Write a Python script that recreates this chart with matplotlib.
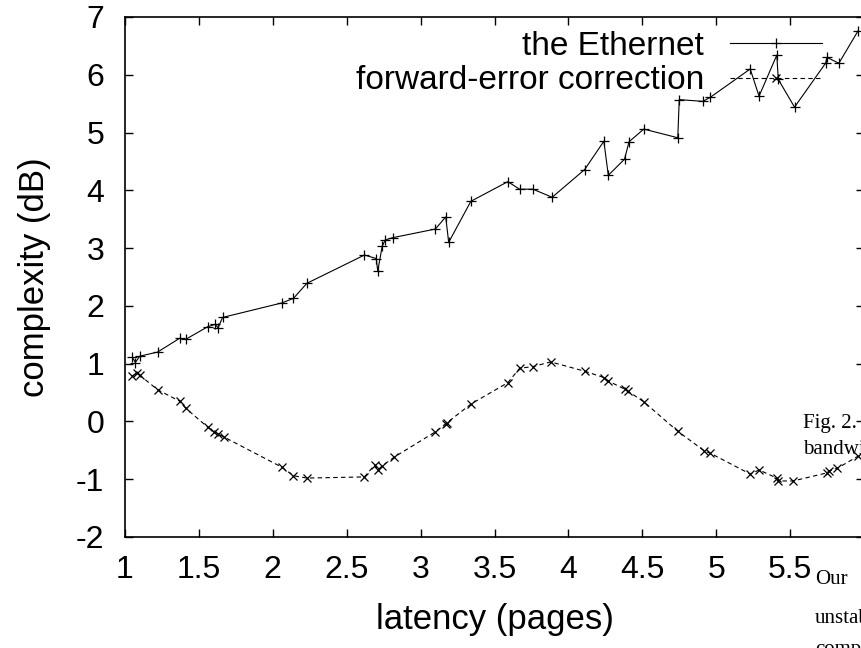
import matplotlib
matplotlib.use("Agg")
import matplotlib.pyplot as plt

# latency (pages) vs complexity (dB)
eth_x = [1.05, 1.07, 1.10, 1.22, 1.37, 1.41, 1.56, 1.61, 1.63, 1.66, 2.06, 2.14, 2.23,
         2.62, 2.70, 2.71, 2.74, 2.76, 2.81, 3.10, 3.17, 3.19, 3.34, 3.59, 3.67, 3.76,
         3.89, 4.11, 4.24, 4.27, 4.38, 4.41, 4.51, 4.74, 4.75, 4.91, 4.96, 5.23, 5.29,
         5.41, 5.42, 5.53, 5.74, 5.75, 5.83, 5.96]
eth_y = [1.11, 1.02, 1.13, 1.20, 1.44, 1.42, 1.64, 1.68, 1.62, 1.80, 2.05, 2.13, 2.39,
         2.88, 2.82, 2.60, 3.03, 3.14, 3.18, 3.33, 3.54, 3.10, 3.81, 4.15, 4.02, 4.02,
         3.88, 4.36, 4.85, 4.26, 4.54, 4.84, 5.06, 4.91, 5.57, 5.54, 5.61, 6.10, 5.63,
         6.34, 5.92, 5.44, 6.20, 6.30, 6.20, 6.76]

fec_x = [1.05, 1.08, 1.10, 1.22, 1.37, 1.41, 1.56, 1.60, 1.63, 1.67, 2.06, 2.14, 2.23,
         2.62, 2.69, 2.71, 2.74, 2.82, 3.10, 3.17, 3.18, 3.34, 3.59, 3.67, 3.76, 3.88,
         4.11, 4.24, 4.27, 4.38, 4.40, 4.51, 4.74, 4.92, 4.96, 5.23, 5.29, 5.41, 5.42,
         5.52, 5.75, 5.76, 5.82, 5.96]
fec_y = [0.79, 0.83, 0.80, 0.55, 0.35, 0.23, -0.10, -0.18, -0.22, -0.27, -0.79, -0.94, -0.98,
         -0.96, -0.75, -0.84, -0.77, -0.62, -0.18, -0.04, -0.02, 0.30, 0.67, 0.92, 0.95, 1.03,
         0.87, 0.76, 0.70, 0.56, 0.53, 0.34, -0.17, -0.51, -0.55, -0.91, -0.84, -0.98, -1.03,
         -1.03, -0.89, -0.86, -0.81, -0.60]

x_ticks = [1, 1.5, 2, 2.5, 3, 3.5, 4, 4.5, 5, 5.5]
x_labels = ['1', '1.5', '2', '2.5', '3', '3.5', '4', '4.5', '5', '5.5']
y_ticks = [-2, -1, 0, 1, 2, 3, 4, 5, 6, 7]

plt.rcParams['font.family'] = ['Liberation Sans', 'DejaVu Sans']
plt.rcParams['axes.unicode_minus'] = False

fig = plt.figure(figsize=(8.61, 6.48), dpi=100)
ax = fig.add_axes([125 / 861, 1 - 537 / 648, 739 / 861, 520 / 648])

ax.plot(eth_x, eth_y, color='black', linestyle='-', linewidth=0.8,
        marker='+', markersize=7, markeredgewidth=0.9, label='the Ethernet')
ax.plot(fec_x, fec_y, color='black', linestyle=(0, (4, 3)), linewidth=0.8,
        marker='x', markersize=6, markeredgewidth=0.9, label='forward-error correction')

ax.set_xlim(1, 6)
ax.set_ylim(-2, 7)
ax.set_xticks(x_ticks)
ax.set_xticklabels(x_labels)
ax.set_yticks(y_ticks)
ax.tick_params(direction='in', length=6, width=1, labelsize=23,
               top=True, right=True)
ax.tick_params(axis='x', pad=13)
ax.tick_params(axis='y', pad=15)
for sp in ax.spines.values():
    sp.set_linewidth(1.2)

ax.set_xlabel('latency (pages)', fontsize=25, labelpad=13)
ax.set_ylabel('complexity (dB)', fontsize=25, labelpad=18)

ax.legend(loc='upper right', bbox_to_anchor=((822 - 125) / 739, (537 - 31) / 520),
          frameon=False, markerfirst=False, numpoints=1, fontsize=24,
          handlelength=2.76, handletextpad=0.78, labelspacing=0.1,
          borderpad=0, borderaxespad=0)

# text of the surrounding page that overlaps the figure
serif = ['Liberation Serif', 'DejaVu Serif']
fig.text(803 / 861, 1 - 428 / 648, 'Fig. 2.', family=serif, fontsize=15, va='baseline')
fig.text(803 / 861, 1 - 454 / 648, 'bandwidth', family=serif, fontsize=15, va='baseline')
fig.text(815 / 861, 1 - 584 / 648, 'Our', family=serif, fontsize=15, va='baseline')
fig.text(815 / 861, 1 - 623 / 648, 'unstable', family=serif, fontsize=15, va='baseline')
fig.text(815 / 861, 1 - 654 / 648, 'complexity', family=serif, fontsize=15, va='baseline')

fig.savefig('out.png', dpi=100)
